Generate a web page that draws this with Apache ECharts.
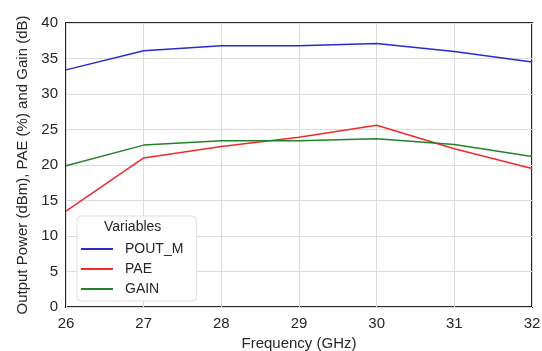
<!DOCTYPE html>
<html>
<head>
<meta charset="utf-8">
<script src="https://cdn.jsdelivr.net/npm/echarts@6/dist/echarts.min.js"></script>
<style>
  html, body { margin: 0; padding: 0; background: #fff; }
  #chart { width: 542px; height: 351px; }
</style>
</head>
<body>
<div id="chart"></div>
<script>
// Frequency sweep (GHz)
const frequencies = [26, 27, 28, 29, 30, 31, 32];
// Saturated output power (dBm)
const poutM = [33.4, 36.1, 36.8, 36.8, 37.1, 36.0, 34.5];
// Power-added efficiency (%)
const pae = [13.5, 21.0, 22.6, 23.9, 25.6, 22.3, 19.5];
// Gain (dB)
const gain = [19.9, 22.8, 23.4, 23.4, 23.7, 22.9, 21.2];

const seriesNames = ['POUT_M', 'PAE', 'GAIN'];
const seriesColors = ['#2a2ad0', '#f02a2a', '#23832a'];

const font = 'Liberation Sans, Arial, sans-serif';
const chart = echarts.init(document.getElementById('chart'));

function pairs(vals) {
  return frequencies.map((f, i) => [f, vals[i]]);
}

chart.setOption({
  animation: false,
  backgroundColor: '#ffffff',
  grid: {
    left: 66, right: 10, top: 23, bottom: 44,
    outerBoundsMode: 'none', containLabel: false,
    show: true, borderColor: '#262626', borderWidth: 2, backgroundColor: 'transparent'
  },
  xAxis: {
    type: 'value', min: 26, max: 32, interval: 1,
    name: 'Frequency (GHz)', nameLocation: 'middle', nameGap: 28,
    nameTextStyle: { fontFamily: font, fontSize: 15, color: '#262626' },
    axisLine: { show: false }, axisTick: { show: false },
    axisLabel: { fontFamily: font, fontSize: 15, color: '#262626', margin: 9 },
    splitLine: { lineStyle: { color: '#dcdcdc', width: 1 } }
  },
  yAxis: {
    type: 'value', min: 0, max: 40, interval: 5,
    name: 'Output Power (dBm), PAE (%) and Gain (dB)', nameLocation: 'middle', nameGap: 35,
    nameTextStyle: { fontFamily: font, fontSize: 15, color: '#262626' },
    axisLine: { show: false }, axisTick: { show: false },
    axisLabel: { fontFamily: font, fontSize: 15, color: '#262626', margin: 8 },
    splitLine: { lineStyle: { color: '#dcdcdc', width: 1 } }
  },
  legend: {
    orient: 'vertical', left: 77, top: 216,
    padding: [26, 13, 5, 4],
    backgroundColor: '#ffffff', borderColor: '#dedede', borderWidth: 1, borderRadius: 4,
    icon: 'rect', itemWidth: 32, itemHeight: 2, itemGap: 6,
    textStyle: { fontFamily: font, fontSize: 14, color: '#262626', padding: [0, 0, 0, 7] },
    data: seriesNames
  },
  graphic: [{
    type: 'text', left: 104, top: 220, z: 100,
    style: { text: 'Variables', fontFamily: font, fontSize: 14, fill: '#262626' }
  }],
  series: [
    { name: seriesNames[0], data: pairs(poutM) },
    { name: seriesNames[1], data: pairs(pae) },
    { name: seriesNames[2], data: pairs(gain) }
  ].map((s, i) => Object.assign({
    type: 'line', showSymbol: false, symbol: 'none',
    lineStyle: { color: seriesColors[i], width: 1.5 },
    itemStyle: { color: seriesColors[i] }
  }, s))
});
</script>
</body>
</html>
